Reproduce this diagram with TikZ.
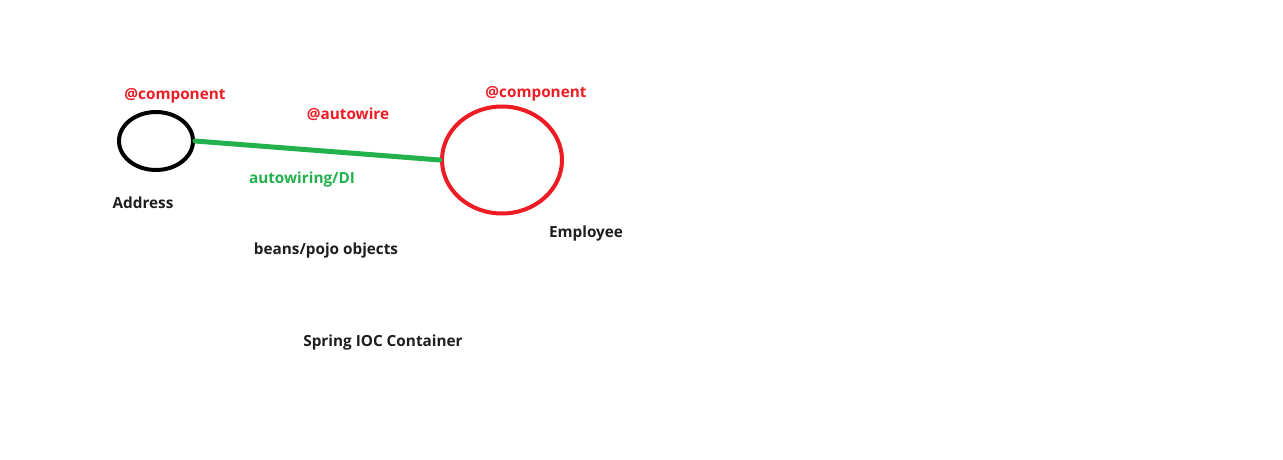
\documentclass[tikz,border=0pt]{standalone}
\usepackage{fontspec}
\setmainfont{Open Sans}
\usetikzlibrary{shapes.geometric}
\begin{document}
\definecolor{pred}{RGB}{237,28,36}
\definecolor{pgreen}{RGB}{34,177,76}
\definecolor{ink}{RGB}{30,30,30}
\begin{tikzpicture}[x=1pt,y=-1pt,
  lbl/.style={font=\bfseries\fontsize{15.3}{18}\selectfont, inner sep=0pt, text=ink},
  redlbl/.style={lbl, text=pred},
  greenlbl/.style={lbl, text=pgreen},
  bean/.style={draw, ellipse, line width=4pt, inner sep=0pt}]
\useasboundingbox (0,0) rectangle (1283,460);
\fill[white] (0,0) rectangle (1283,460);
% beans
\node[bean, draw=black, minimum width=74pt, minimum height=58pt] (addr) at (156,141) {};
\node[bean, draw=pred, minimum width=120pt, minimum height=107pt] (emp) at (502,160) {};
% dependency link
\draw[pgreen, line width=5pt, line cap=round] (addr.east) -- (emp.west);
% labels
\node[redlbl] (c1) at (175,96) {@component};
\node[redlbl] (c2) at (536,94) {@component};
\node[redlbl] (aw) at (348,114) {@autowire};
\node[greenlbl] (di) at (302,180) {autowiring/DI};
\node[lbl] (an) at (143,203) {Address};
\node[lbl] (en) at (586,234) {Employee};
\node[lbl] (bp) at (326,251) {beans/pojo objects};
\node[lbl] (ioc) at (383,343) {Spring IOC Container};
\end{tikzpicture}
\end{document}
